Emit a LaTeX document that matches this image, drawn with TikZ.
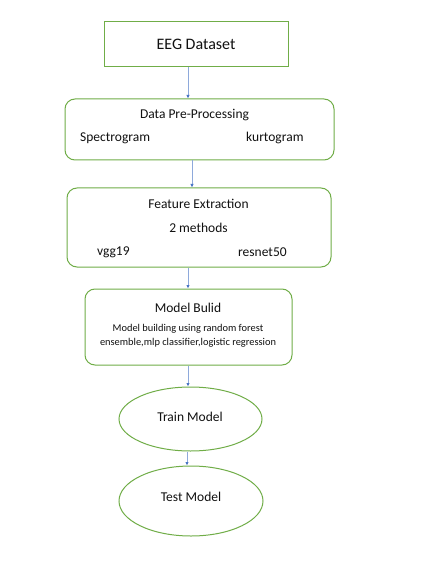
\documentclass[tikz,border=0pt]{standalone}
\usepackage{fontspec}
\setmainfont{Carlito}
\usetikzlibrary{arrows.meta,shapes.geometric}
\definecolor{boxgreen}{HTML}{70AD47}
\definecolor{arrblue}{HTML}{4472C4}
\definecolor{arrline}{HTML}{8EA9DB}
\definecolor{txt}{HTML}{111111}
\begin{document}
\begin{tikzpicture}[x=1pt,y=-1pt,
  gbox/.style={draw=boxgreen,line width=1pt,fill=white,inner sep=0pt},
  rbox/.style={gbox,rounded corners=10pt},
  gell/.style={gbox,ellipse},
  lbl/.style={text=txt,inner sep=0pt,font=\fontsize{13.5}{16}\selectfont},
  big/.style={text=txt,inner sep=0pt,font=\fontsize{16}{19}\selectfont},
  small/.style={text=txt,inner sep=0pt,align=center,font=\fontsize{10.4}{14}\selectfont},
  arr/.style={draw=arrline,line width=0.8pt,-{Latex[length=3.5pt,width=3.5pt,color=arrblue]}}]
\useasboundingbox (0,0) rectangle (421,561);
\fill[white] (0,0) rectangle (421,561);
% boxes
\node[gbox,minimum width=184pt,minimum height=45pt] (b1) at (196,44.5) {};
\node[rbox,minimum width=269pt,minimum height=61pt] (b2) at (199.5,129.5) {};
\node[rbox,minimum width=264pt,minimum height=79pt] (b3) at (199,227.5) {};
\node[rbox,minimum width=207pt,minimum height=76pt] (b4) at (188.5,327) {};
\node[gell,minimum width=143pt,minimum height=64pt] (e1) at (190.5,419) {};
\node[gell,minimum width=144pt,minimum height=70pt] (e2) at (191,501) {};
% texts
\node[big] (t1) at (196,44) {EEG Dataset};
\node[lbl] (t2) at (194.5,115) {Data Pre-Processing};
\node[lbl,anchor=west] (t2a) at (80,138) {Spectrogram};
\node[lbl,anchor=west] (t2b) at (246,138) {kurtogram};
\node[lbl] (t3) at (198.5,204) {Feature Extraction};
\node[lbl] (t3a) at (198.5,228) {2 methods};
\node[lbl,anchor=west] (t3b) at (97,252) {vgg19};
\node[lbl,anchor=west] (t3c) at (238,252) {resnet50};
\node[lbl] (t4) at (188,308) {Model Bulid};
\node[small] (t4a) at (188,336) {Model building using random forest\\ensemble,mlp classifier,logistic regression};
\node[lbl] (t5) at (190,417) {Train Model};
\node[lbl] (t6) at (191,497) {Test Model};
% arrow columns
\coordinate (x1) at (188,0);
\coordinate (x2) at (192,0);
\coordinate (x3) at (188,0);
\coordinate (x4) at (188,0);
\coordinate (x5) at (187,0);
\draw[arr] (b1.south -| x1) -- (b2.north -| x1);
\draw[arr] (b2.south -| x2) -- (b3.north -| x2);
\draw[arr] (b3.south -| x3) -- (b4.north -| x3);
\draw[arr] (b4.south -| x4) -- (e1.north -| x4);
\draw[arr] (e1.south -| x5) -- (e2.north -| x5);
\end{tikzpicture}
\end{document}
